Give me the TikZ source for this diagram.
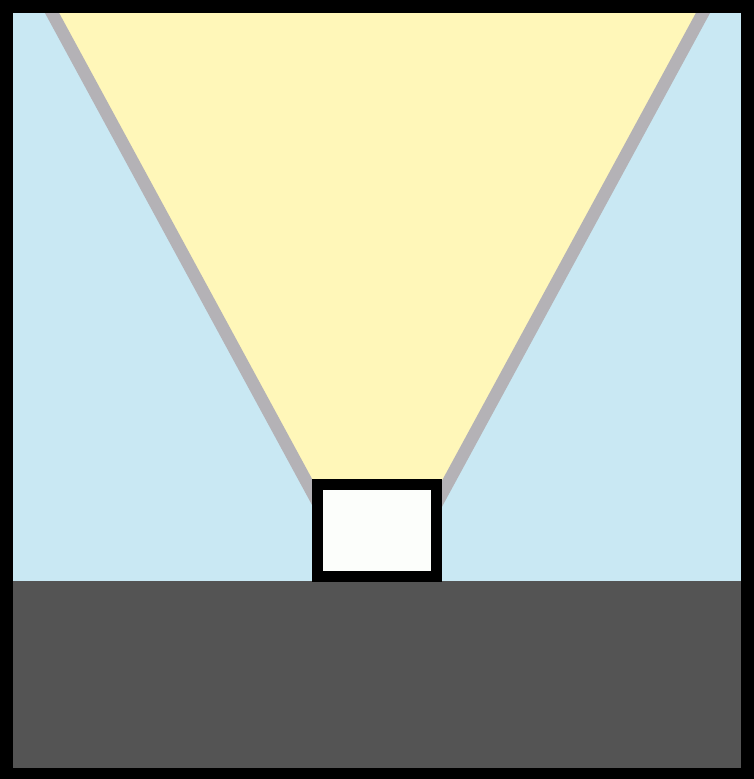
\documentclass[tikz,border=0pt]{standalone}
\definecolor{skyblue}{RGB}{201,232,243}
\definecolor{beamyellow}{RGB}{255,247,185}
\definecolor{beamedge}{RGB}{180,178,182}
\definecolor{ground}{RGB}{84,84,84}
\definecolor{boxwhite}{RGB}{252,254,251}
\begin{document}
\begin{tikzpicture}[x=1pt,y=-1pt,
  beamline/.style={draw=beamedge,line width=12.5pt},
  lampbox/.style={draw=black,line width=11.5pt,fill=boxwhite}]
\useasboundingbox (0,0) rectangle (754,779);
\fill[black] (0,0) rectangle (754,779);
\fill[skyblue] (13,13) rectangle (741,768);
\begin{scope}
  \clip (13,13) rectangle (741,768);
  \fill[beamyellow] (45,0) -- (710,0) -- (406,560) -- (349,560) -- cycle;
  \coordinate (lt) at (45,0);
  \coordinate (lb) at (349,560);
  \coordinate (rt) at (710,0);
  \coordinate (rb) at (406,560);
  \draw[beamline] (lt) -- (lb);
  \draw[beamline] (rt) -- (rb);
\end{scope}
\fill[ground] (13,581) rectangle (741,768);
\draw[lampbox] (317.5,484.5) rectangle (436.5,576.5);
\end{tikzpicture}
\end{document}
